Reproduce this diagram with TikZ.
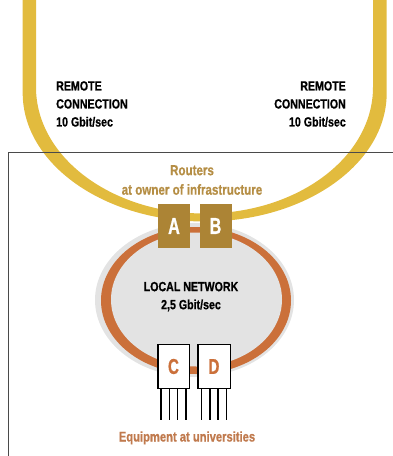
\documentclass[tikz,border=0pt]{standalone}
\usepackage{fontspec}
\setmainfont{Liberation Sans}[FakeStretch=0.8, BoldFeatures={FakeBold=0.8}]
\newfontfamily\narrowfont{Liberation Sans}[FakeStretch=0.7, BoldFeatures={FakeBold=0.8}]
\usetikzlibrary{calc}

\definecolor{loopyellow}{HTML}{E2BB3E}
\definecolor{routergold}{HTML}{AC8435}
\definecolor{routertext}{HTML}{B58E45}
\definecolor{netorange}{HTML}{CB703A}
\definecolor{equiptext}{HTML}{C07A4E}
\definecolor{netgray}{HTML}{E3E3E3}
\definecolor{framegray}{HTML}{4A4A4A}

\tikzset{
  label13/.style={inner sep=0pt, font=\fontsize{13.3}{18}\selectfont\bfseries},
  routerbox/.style={fill=routergold, text=white, inner sep=0pt,
    minimum width=32pt, minimum height=44pt,
    font=\narrowfont\fontsize{23}{24}\selectfont\bfseries},
  unibox/.style={draw=black, line width=1.5pt, fill=white, text=netorange,
    inner sep=0pt, minimum height=44.25pt,
    font=\narrowfont\fontsize{21.5}{24}\selectfont\bfseries},
  leg/.style={draw=black, line width=1.5pt},
}

\begin{document}
\begin{tikzpicture}[x=1pt, y=-1pt]
\useasboundingbox (0,0) rectangle (393,456);
\clip (0,0) rectangle (393,456);

% remote connection loop
\fill[loopyellow] (22.7,-5) -- (22.7,93)
  arc[start angle=180, end angle=0, x radius=182, y radius=128.5]
  -- (386.7,-5) -- (373,-5) -- (373,87.2)
  arc[start angle=0, end angle=180, x radius=168.5, y radius=126.3]
  -- (36,-5) -- cycle;

% frame of the site
\draw[framegray, line width=1pt] (400,152) -- (8,152) -- (8,470);

% local network ring
\fill[netgray] (194.5,300) ellipse [x radius=99.5, y radius=77];
\fill[netorange] (196,300.5) ellipse [x radius=95, y radius=73.5];
\fill[netgray] (196.5,299.5) ellipse [x radius=85.5, y radius=67];

% labels of the remote connections
\node[label13, anchor=north west, align=left] (remoteL) at (56,81)
  {REMOTE\\CONNECTION\\10 Gbit/sec};
\node[label13, anchor=north east, align=right] (remoteR) at (346,81)
  {REMOTE\\CONNECTION\\10 Gbit/sec};

% routers
\node[inner sep=0pt, anchor=north, align=center, text=routertext,
  font=\fontsize{14.5}{19.5}\selectfont\bfseries] (routers) at (192,165)
  {Routers\\at owner of infrastructure};
\node[routerbox] (a) at (174,226) {A};
\node[routerbox] (b) at (215.5,226) {B};

% local network label
\node[label13, anchor=north, align=center] (local) at (191,281.7)
  {LOCAL NETWORK\\2,5 Gbit/sec};

% equipment
\node[unibox, minimum width=31.5pt] (c) at (173.5,366.5) {C};
\node[unibox, minimum width=32.5pt] (d) at (214,366.5) {D};
\foreach \dx in {-12.5,-4.2,4.2,12.5} {
  \draw[leg] ($(c.south)+(\dx,0)$) -- ++(0,31);
  \draw[leg] ($(d.south)+(\dx,0)$) -- ++(0,31);
}
\node[inner sep=0pt, anchor=base, text=equiptext,
  font=\fontsize{14}{16}\selectfont\bfseries] (equip) at (187,441.5)
  {Equipment at universities};
\end{tikzpicture}
\end{document}
